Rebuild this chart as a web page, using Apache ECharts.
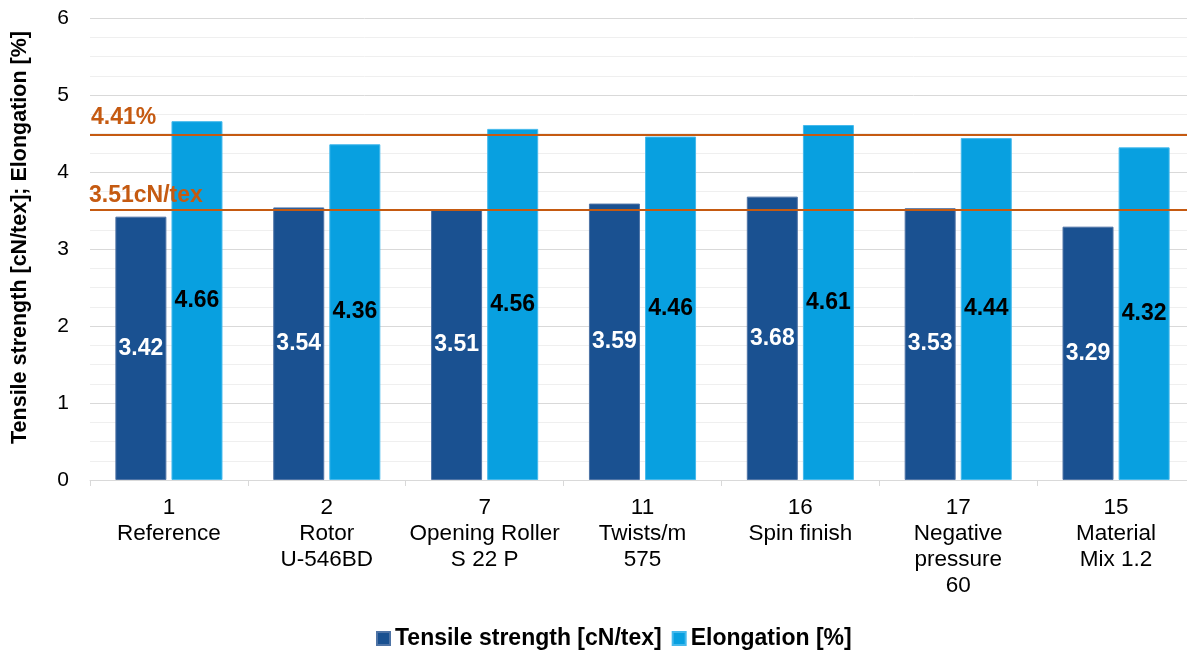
<!DOCTYPE html>
<html>
<head>
<meta charset="utf-8">
<script src="https://cdn.jsdelivr.net/npm/echarts@6/dist/echarts.min.js"></script>
<style>
  html, body { margin: 0; padding: 0; background: #fff; }
  #chart { width: 1187px; height: 650px; }
</style>
</head>
<body>
<div id="chart"></div>
<script>
const categories = ['1\nReference', '2\nRotor\nU-546BD', '7\nOpening Roller\nS 22 P', '11\nTwists/m\n575',
    '16\nSpin finish', '17\nNegative\npressure\n60', '15\nMaterial\nMix 1.2'];
const tensile = [3.42, 3.54, 3.51, 3.59, 3.68, 3.53, 3.29];
const elongation = [4.66, 4.36, 4.56, 4.46, 4.61, 4.44, 4.32];
const yTicks = [0, 1, 2, 3, 4, 5, 6];
// reference lines (position, label text as printed)
const tensileRef = 3.51;
const tensileRefLabel = '3.51cN/tex';
const elongRef = 4.49;
const elongRefLabel = '4.41%';

const myChart = echarts.init(document.getElementById('chart'), null, { renderer: 'canvas' });
const font = '"Liberation Sans", Arial, sans-serif';
const orange = '#c55a11';

const option = {
    animation: false,
    textStyle: { fontFamily: font },
    grid: { left: 90, right: -8, top: 18, bottom: 170, containLabel: false, outerBoundsMode: 'none' },
    legend: {
        top: 627,
        left: 376,
        icon: 'rect',
        itemWidth: 13,
        itemHeight: 13,
        itemGap: 10,
        padding: 0,
        textStyle: { fontSize: 23, fontWeight: 'bold', color: '#000', fontFamily: font },
        data: ['Tensile strength [cN/tex]', 'Elongation [%]']
    },
    xAxis: {
        type: 'category',
        data: categories,
        axisLine: { lineStyle: { color: '#d9d9d9', width: 1 } },
        axisTick: { show: true, length: 6, lineStyle: { color: '#d9d9d9' } },
        axisLabel: { color: '#000', fontSize: 22.5, lineHeight: 26, margin: 15, interval: 0, fontFamily: font }
    },
    yAxis: {
        type: 'value',
        min: yTicks[0],
        max: yTicks[yTicks.length - 1],
        interval: 1,
        name: 'Tensile strength [cN/tex]; Elongation [%]',
        nameLocation: 'middle',
        nameGap: 59,
        nameTextStyle: { fontSize: 21.5, fontWeight: 'bold', color: '#000', fontFamily: font, padding: [0, 0, 0, 23] },
        axisLine: { show: false },
        axisTick: { show: false },
        axisLabel: { color: '#000', fontSize: 21, margin: 21, fontFamily: font },
        splitLine: { show: true, lineStyle: { color: '#d9d9d9', width: 1 } },
        minorTick: { show: false, splitNumber: 4 },
        minorSplitLine: { show: true, lineStyle: { color: '#efefef', width: 1 } }
    },
    series: [
        {
            name: 'Tensile strength [cN/tex]',
            type: 'bar',
            data: tensile,
            barWidth: 51,
            barGap: '10%',
            itemStyle: { color: '#1a5191', borderColor: '#4f74a6', borderWidth: 1 },
            label: {
                show: true,
                position: 'inside',
                color: '#fff',
                fontSize: 23,
                fontWeight: 'bold',
                fontFamily: font,
                formatter: p => p.value.toFixed(2)
            },
            markLine: {
                silent: true,
                symbol: 'none',
                lineStyle: { color: orange, width: 2, type: 'solid' },
                label: {
                    position: 'insideStartTop',
                    formatter: tensileRefLabel,
                    color: orange,
                    fontSize: 23,
                    fontWeight: 'bold',
                    fontFamily: font,
                    distance: [-1, 3]
                },
                data: [{ yAxis: tensileRef }]
            }
        },
        {
            name: 'Elongation [%]',
            type: 'bar',
            data: elongation,
            barWidth: 51,
            itemStyle: { color: '#08a0e0', borderColor: '#45b9ec', borderWidth: 1 },
            label: {
                show: true,
                position: 'inside',
                color: '#000',
                fontSize: 23,
                fontWeight: 'bold',
                fontFamily: font,
                formatter: p => p.value.toFixed(2)
            },
            markLine: {
                silent: true,
                symbol: 'none',
                lineStyle: { color: orange, width: 2, type: 'solid' },
                label: {
                    position: 'insideStartTop',
                    formatter: elongRefLabel,
                    color: orange,
                    fontSize: 23,
                    fontWeight: 'bold',
                    fontFamily: font,
                    distance: [1, 5]
                },
                data: [{ yAxis: elongRef }]
            }
        }
    ]
};

myChart.setOption(option, true);
</script>
</body>
</html>
